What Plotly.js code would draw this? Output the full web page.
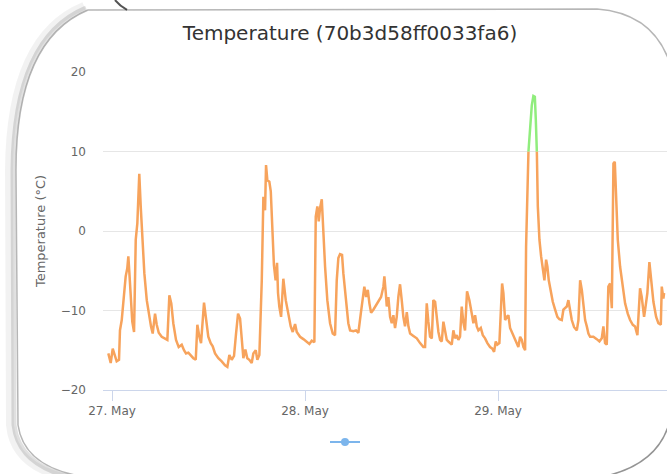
<!DOCTYPE html>
<html>
<head>
<meta charset="utf-8">
<script src="https://cdn.plot.ly/plotly-3.0.1.min.js"></script>
<style>html,body{margin:0;padding:0;background:#fff;}#chart{width:667px;height:474px;}</style>
</head>
<body>
<div id="chart"></div>
<script>
// Hours after 27 May 00:00
const hours = [-0.46,-0.16,0.09,0.34,0.58,0.87,0.99,1.21,1.41,1.70,1.90,2.03,2.15,2.33,2.52,2.74,2.95,3.15,3.39,3.57,3.77,4.02,4.32,4.60,4.85,5.06,5.35,5.56,5.81,6.18,6.59,6.88,7.13,7.37,7.62,7.96,8.29,8.67,8.95,9.20,9.49,9.79,10.11,10.41,10.61,10.86,11.07,11.44,11.69,11.97,12.27,12.52,12.81,13.22,13.64,14.05,14.34,14.59,14.88,15.17,15.42,15.67,15.92,16.13,16.33,16.58,16.82,17.07,17.37,17.57,17.87,18.07,18.32,18.62,18.82,19.03,19.15,19.31,19.56,19.74,19.89,20.13,20.34,20.52,20.64,20.80,21.02,21.30,21.60,21.92,22.22,22.47,22.76,22.97,23.38,23.79,24.21,24.54,24.83,25.16,25.33,25.53,25.70,25.87,26.08,26.20,26.49,26.77,27.11,27.44,27.73,27.94,28.14,28.35,28.60,28.76,28.97,29.19,29.38,29.60,30.01,30.34,30.63,30.93,31.18,31.37,31.59,31.80,32.00,32.21,32.49,32.83,33.11,33.45,33.74,33.86,34.04,34.16,34.36,34.57,34.78,34.98,35.19,35.40,35.60,35.81,36.02,36.22,36.43,36.65,36.85,37.06,37.47,37.89,38.30,38.71,38.92,39.13,39.33,39.54,39.76,39.95,40.17,40.38,40.58,40.79,41.00,41.20,41.41,41.62,41.82,42.03,42.24,42.44,42.65,42.86,43.06,43.27,43.48,43.68,43.89,44.14,44.43,44.73,44.93,45.14,45.35,45.55,45.85,46.10,46.38,46.67,47.00,47.29,47.50,47.71,47.91,48.16,48.34,48.50,48.66,48.87,49.08,49.28,49.49,49.70,49.90,50.11,50.33,50.52,50.74,50.95,51.15,51.36,51.48,51.64,51.77,51.98,52.19,52.39,52.57,52.69,52.82,52.94,53.14,53.35,53.56,53.76,53.97,54.13,54.30,54.55,54.80,55.09,55.37,55.62,55.92,56.12,56.33,56.54,56.74,56.95,57.16,57.45,57.79,57.99,58.20,58.41,58.61,58.82,59.03,59.23,59.44,59.85,60.27,60.60,60.89,61.09,61.30,61.51,61.71,61.93,62.14,62.34,62.51,62.67,62.88,63.17,63.50,63.79,64.12,64.41,64.75,65.03,65.32,65.53,65.65,65.86,66.15,66.31,66.56,66.81,67.02,67.31,67.65,67.93,68.23,68.35,68.55,68.64];
const temps = [-15.4,-16.6,-14.8,-15.8,-16.4,-16.2,-12.5,-11.2,-8.7,-5.7,-4.7,-3.2,-5.1,-8.3,-11.4,-12.7,-1.1,1.0,7.2,3.1,-1.1,-5.3,-8.7,-10.8,-12.0,-12.9,-10.4,-11.8,-12.8,-13.3,-13.6,-13.7,-8.1,-9.1,-11.6,-13.7,-14.6,-14.3,-15.0,-15.4,-15.3,-15.7,-16.0,-16.2,-11.8,-13.3,-14.1,-9.0,-10.8,-13.3,-14.1,-14.5,-15.4,-16.0,-16.4,-16.9,-17.1,-15.6,-16.2,-15.7,-12.9,-10.4,-11.0,-13.3,-16.0,-14.9,-16.0,-16.2,-16.6,-15.4,-15.0,-16.2,-15.6,-6.2,4.3,2.6,8.3,6.4,6.2,5.0,1.5,-4.3,-6.2,-4.0,-7.8,-9.5,-10.8,-6.0,-8.7,-10.4,-12.0,-12.7,-11.7,-12.7,-13.3,-13.6,-14.0,-14.2,-13.8,-14.0,1.8,3.1,1.2,2.9,4.0,1.4,-4.5,-8.7,-11.6,-12.9,-13.1,-6.2,-3.4,-2.9,-3.0,-5.3,-7.8,-9.9,-11.6,-12.5,-12.6,-12.5,-12.8,-10.4,-8.5,-7.0,-8.3,-7.4,-9.1,-10.3,-9.9,-9.3,-8.9,-8.3,-7.0,-5.7,-7.8,-9.5,-8.3,-10.8,-11.6,-10.6,-12.2,-10.8,-8.3,-6.7,-8.7,-10.8,-12.0,-10.2,-12.0,-12.9,-13.2,-13.5,-14.1,-14.6,-14.6,-9.1,-11.4,-13.3,-13.5,-8.7,-8.9,-11.4,-12.7,-13.7,-13.9,-11.4,-12.5,-13.7,-13.9,-14.1,-14.3,-12.5,-13.5,-13.1,-13.7,-13.3,-9.5,-11.5,-12.5,-7.6,-8.7,-10.4,-11.6,-10.6,-12.0,-12.5,-12.2,-13.1,-13.5,-14.1,-14.6,-14.8,-15.2,-13.9,-14.3,-14.1,-9.5,-6.6,-7.8,-11.2,-10.8,-10.6,-12.2,-12.7,-13.1,-13.5,-14.1,-14.6,-13.3,-13.7,-14.6,-15.0,-2.0,6.4,9.9,13.5,15.8,17.0,16.9,14.0,9.9,3.1,-1.1,-3.2,-4.9,-6.2,-3.6,-4.5,-6.2,-7.8,-8.9,-9.9,-10.8,-11.1,-11.2,-9.9,-9.7,-9.5,-8.7,-9.9,-11.2,-12.1,-12.5,-11.2,-6.2,-7.4,-9.5,-11.2,-12.0,-12.9,-13.3,-13.3,-13.6,-13.9,-13.5,-12.0,-14.1,-14.3,-7.0,-6.6,-9.7,8.5,8.7,4.7,-1.1,-4.5,-7.2,-9.1,-10.4,-11.2,-11.8,-12.0,-13.1,-9.9,-7.2,-8.3,-10.8,-9.7,-7.8,-3.9,-6.2,-8.9,-10.8,-11.6,-11.8,-7.0,-8.5,-7.8];
const threshold = 10;
const tickDays = ['2019-05-27', '2019-05-28', '2019-05-29'];
const xRangeHours = [-1.12, 69.0];
const yTicks = [-20, -10, 0, 10, 20];

const base = Date.UTC(2019, 4, 27);
const toMs = h => base + h * 3600000;
const ms = hours.map(toMs);

// split into zones (<= threshold orange, > threshold green)
const ox = [], oy = [], gx = [], gy = [];
for (let i = 0; i < ms.length; i++) {
  const t = ms[i], y = temps[i];
  if (i > 0) {
    const tp = ms[i-1], yp = temps[i-1];
    if ((yp - threshold) * (y - threshold) < 0) {
      const tc = tp + (t - tp) * (threshold - yp) / (y - yp);
      ox.push(tc); oy.push(threshold); gx.push(tc); gy.push(threshold);
      if (y > threshold) { ox.push(null); oy.push(null); }
      else { gx.push(null); gy.push(null); }
    }
  }
  if (y <= threshold) { ox.push(t); oy.push(y); } else { gx.push(t); gy.push(y); }
}

const traces = [
  {x: ox, y: oy, type: 'scatter', mode: 'lines', line: {color: '#f7a35c', width: 2.5}, showlegend: false, connectgaps: false},
  {x: gx, y: gy, type: 'scatter', mode: 'lines', line: {color: '#90ed7d', width: 2.5}, showlegend: false, connectgaps: false},
  {x: [null], y: [null], type: 'scatter', mode: 'lines+markers', name: ' ', line: {color: '#7cb5ec', width: 2}, marker: {color: '#7cb5ec', size: 8}, showlegend: true}
];

// decoration helpers (pixel -> paper)
const L = 103, R = 667, T = 72, B = 390;
const px = x => ((x - L) / (R - L)).toFixed(4);
const py = y => ((B - y) / (B - T)).toFixed(4);
function pth(cmds) {
  let s = '';
  cmds.forEach(c => {
    s += c[0];
    const pts = [];
    for (let k = 1; k < c.length; k += 2) pts.push(px(c[k]) + ',' + py(c[k+1]));
    s += pts.join(' ') + ' ';
  });
  return s.trim();
}
const edge = [['M',80,476],['Q',24,466,18,425],['L',16,170],['Q',16,40,88,10],['L',597,9],['Q',650,13,668,58]];
const shadowOuter = [['M',72,479],['Q',14,468,10,425],['L',9,170],['Q',10,36,84,6]];
const shadowInner = [['M',76,478],['Q',19,467,14,425],['L',13,170],['Q',14,38,86,8]];
const edge2 = [['M',669,424],['Q',657,464,606,476]];
const curl = [['M',115,0],['Q',120,6,127,10]];

const shapes = [
  {type: 'path', xref: 'paper', yref: 'paper', path: pth(shadowOuter), line: {color: 'rgba(0,0,0,0.05)', width: 8}},
  {type: 'path', xref: 'paper', yref: 'paper', path: pth(shadowInner), line: {color: 'rgba(0,0,0,0.12)', width: 5}},
  {type: 'path', xref: 'paper', yref: 'paper', path: pth(edge), line: {color: 'rgba(110,110,110,0.5)', width: 1.5}},
  {type: 'path', xref: 'paper', yref: 'paper', path: pth(edge2), line: {color: 'rgba(60,60,60,0.55)', width: 1.5}},
  {type: 'path', xref: 'paper', yref: 'paper', path: pth(curl), line: {color: 'rgba(40,40,40,0.8)', width: 2}}
];

const layout = {
  width: 667, height: 474,
  margin: {l: L, r: 0, t: T, b: 474 - B, pad: 0},
  paper_bgcolor: '#ffffff', plot_bgcolor: '#ffffff',
  font: {family: 'DejaVu Sans, sans-serif', color: '#666666'},
  title: {text: 'Temperature (70b3d58ff0033fa6)', font: {family: 'DejaVu Sans, sans-serif', size: 20, color: '#333333'},
          xref: 'container', yref: 'container', x: 350/667, xanchor: 'center', y: 1 - 33/474, yanchor: 'middle'},
  xaxis: {type: 'date', range: [toMs(xRangeHours[0]), toMs(xRangeHours[1])],
          tickvals: tickDays.map(d => Date.parse(d + 'T00:00:00Z')), tickformat: '%d. %b',
          ticks: 'outside', ticklen: 10, tickwidth: 1, tickcolor: '#ccd6eb',
          showline: true, linecolor: '#ccd6eb', linewidth: 1, showgrid: false, zeroline: false,
          tickfont: {size: 12, color: '#666666'}},
  yaxis: {range: [-20, 20], tickvals: yTicks, showgrid: true, gridcolor: '#e6e6e6', gridwidth: 1,
          zeroline: false, showline: false, ticks: '', ticklabelstandoff: 16,
          tickfont: {size: 12, color: '#666666'},
          title: {text: 'Temperature (°C)', font: {size: 13, color: '#666666'}, standoff: 12}},
  showlegend: true,
  legend: {orientation: 'h', x: (347 - 22 - L) / (R - L), xanchor: 'left', y: (B - 442) / (B - T), yanchor: 'middle',
           font: {size: 12, color: '#333'}, bgcolor: 'rgba(0,0,0,0)'},
  shapes: shapes
};

Plotly.newPlot('chart', traces, layout, {staticPlot: true, displayModeBar: false});
</script>
</body>
</html>
